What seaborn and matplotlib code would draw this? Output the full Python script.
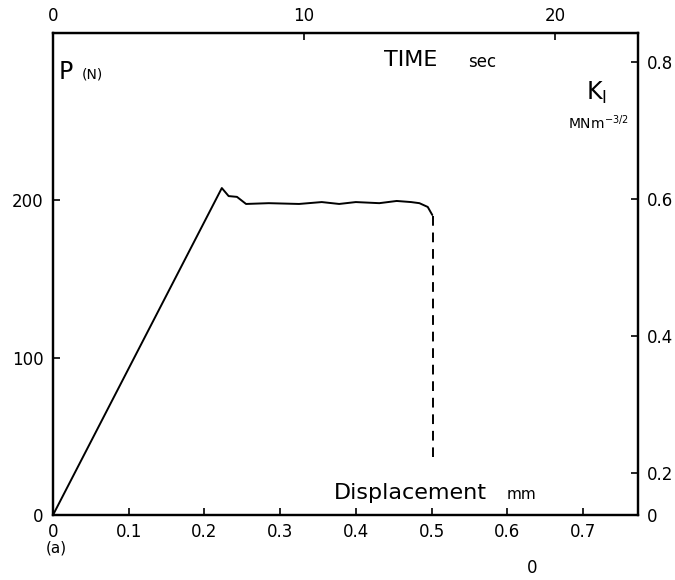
import seaborn as sns
import pandas as pd
import numpy as np
import matplotlib.pyplot as plt

# load-displacement record
displacement = [0.0, 0.223, 0.232, 0.243, 0.255, 0.285, 0.325, 0.355, 0.378, 0.40, 0.431, 0.454, 0.473, 0.484, 0.495, 0.501]
load = [0.0, 207.6, 202.5, 202.0, 197.5, 198.0, 197.5, 198.7, 197.5, 198.7, 198.0, 199.4, 198.7, 198.0, 195.6, 190.5]
# unstable crack growth part (dashed)
crack_disp = [0.502, 0.502]
crack_load = [190.0, 37.0]

disp_ticks = [0, 0.1, 0.2, 0.3, 0.4, 0.5, 0.6, 0.7]
load_ticks = [0, 100, 200]
time_ticks = [0, 10, 20]
k_ticks = [0.2, 0.4, 0.6, 0.8]
mm_per_sec = 0.03316

sns.set_style("ticks")
plt.rcParams['font.family'] = ['DejaVu Sans']
plt.rcParams['text.color'] = 'black'

df = pd.concat([
    pd.DataFrame({'d': displacement, 'P': load, 'part': 'load'}),
    pd.DataFrame({'d': crack_disp, 'P': crack_load, 'part': 'crack'}),
], ignore_index=True)

fig = plt.figure(figsize=(6.75, 5.8), dpi=100)
ax = fig.add_axes([0.0785, 0.112, 0.867, 0.831])

sns.lineplot(data=df, x='d', y='P', style='part', units='part', estimator=None,
             dashes={'load': '', 'crack': (5, 3.5)}, ax=ax, color='black',
             lw=1.4, sort=False, legend=False)

ax.set_xlim(0, 0.773)
ax.set_ylim(0, 306)
ax.set_xticks(disp_ticks)
ax.set_xticklabels(['0', '0.1', '0.2', '0.3', '0.4', '0.5', '0.6', '0.7'])
ax.set_yticks(load_ticks)
ax.set_xlabel('')
ax.set_ylabel('')
ax.tick_params(direction='in', length=5, width=1.2, labelsize=12, colors='black')
ax.tick_params(axis='x', pad=6)
ax.tick_params(axis='y', pad=7)
for s in ax.spines.values():
    s.set_linewidth(1.6)
    s.set_color('black')

# time axis on top
top = ax.secondary_xaxis('top', functions=(lambda d: d / mm_per_sec, lambda t: t * mm_per_sec))
top.set_xticks(time_ticks)
top.tick_params(direction='in', length=5, width=1.2, labelsize=12, pad=6, colors='black')

# stress intensity axis on right
axr = ax.twinx()
axr.set_ylim(0.139, 0.842)
axr.set_yticks([0.139] + k_ticks)
axr.set_yticklabels(['0', '0.2', '0.4', '0.6', '0.8'])
axr.tick_params(direction='in', length=5, width=1.2, labelsize=12, pad=6, colors='black')
for s in axr.spines.values():
    s.set_linewidth(1.6)
    s.set_color('black')

# labels inside the frame
ax.text(0.01, 0.92, 'P', transform=ax.transAxes, fontsize=17, va='center')
ax.text(0.05, 0.915, '(N)', transform=ax.transAxes, fontsize=10, va='center')
ax.text(0.565, 0.945, 'TIME', transform=ax.transAxes, fontsize=16, va='center')
ax.text(0.71, 0.94, 'sec', transform=ax.transAxes, fontsize=12, va='center')
ax.text(0.91, 0.875, r'K$_\mathregular{I}$', transform=ax.transAxes, fontsize=17, va='center')
ax.text(0.88, 0.815, r'MNm$^\mathregular{-3/2}$', transform=ax.transAxes, fontsize=10, va='center')
ax.text(0.48, 0.045, 'Displacement', transform=ax.transAxes, fontsize=16, va='center')
ax.text(0.775, 0.042, 'mm', transform=ax.transAxes, fontsize=11, va='center')

fig.text(0.068, 0.048, '(a)', fontsize=11)
fig.text(0.781, 0.012, '0', fontsize=12)

plt.savefig('out.png', dpi=100)
